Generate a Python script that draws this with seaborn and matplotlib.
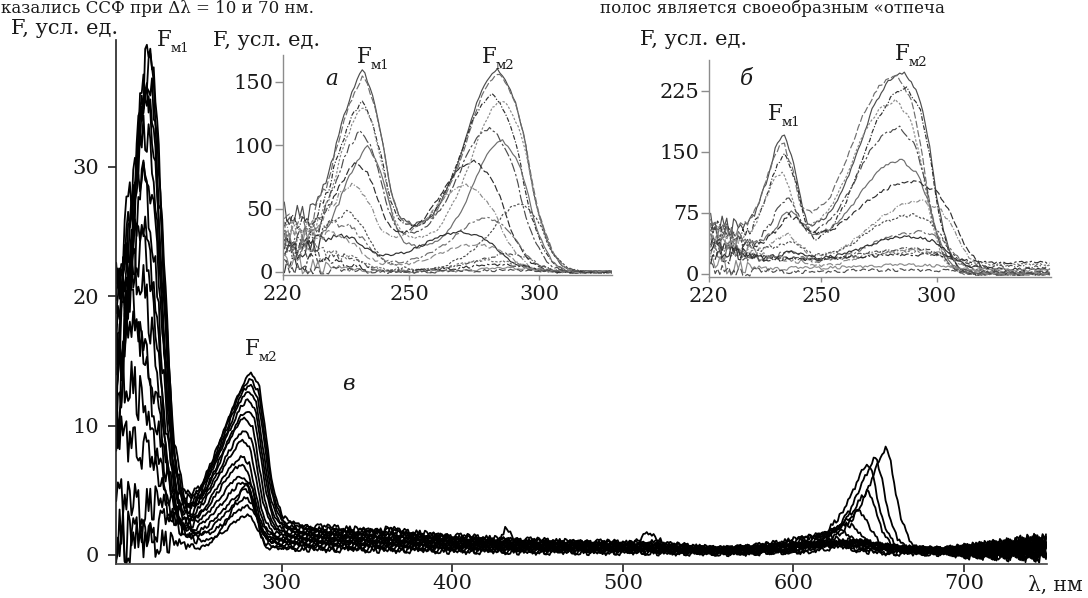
import numpy as np
import pandas as pd
import matplotlib
matplotlib.use("Agg")
import matplotlib.pyplot as plt
import seaborn as sns

# ---------------- DATA ----------------
# shared hand-typed jitter pattern (scan noise), values in [-1, 1]
noise_pattern = [0.0, 0.8, -0.5, 1.0, -0.9, 0.3, 0.7, -1.0, 0.4, -0.2, 0.9, -0.7, 0.1,
                 0.6, -0.8, 1.0, -0.3, -0.6, 0.5, 0.2, -1.0, 0.8, -0.4, 0.3, -0.9, 0.6,
                 0.9, -0.5, -0.1, 0.7, -0.8, 0.2, 1.0, -0.6, 0.4, -0.2, 0.8, -1.0, 0.5,
                 -0.3, 0.1]

# ---- main panel (в): band shapes (offset from peak, nm / normalised height)
main_fm1_off = [-26, -20, -16, -12, -8, -5, -2, 0, 2, 5, 8, 11, 14, 17, 20, 24, 30]
main_fm1_val = [0.0, 0.08, 0.2, 0.42, 0.68, 0.86, 0.97, 1.0, 0.96, 0.82, 0.6, 0.38, 0.2,
                0.1, 0.045, 0.015, 0.0]
main_fm2_off = [-46, -38, -30, -24, -18, -11, -4, 0, 4.6, 8.6, 11.6, 14.6, 18.4, 22.6, 30]
main_fm2_val = [0.0, 0.1, 0.25, 0.4, 0.57, 0.78, 0.96, 1.0, 0.91, 0.57, 0.31, 0.155, 0.05,
                0.02, 0.0]
main_fm3_off = [-45, -35, -25, -15, -8, -3, 0, 3, 6, 9, 13, 18, 24]
main_fm3_val = [0.0, 0.08, 0.2, 0.42, 0.7, 0.92, 1.0, 0.85, 0.55, 0.32, 0.15, 0.05, 0.0]
main_base_wl = [203, 260, 300, 320, 340, 360, 380, 400, 430, 460, 500, 530, 555, 580, 600,
                640, 680, 700, 720, 748]
main_base_val = [1.0, 1.0, 1.0, 0.92, 0.85, 0.8, 0.72, 0.62, 0.52, 0.45, 0.4, 0.33, 0.22,
                 0.26, 0.32, 0.3, 0.22, 0.2, 0.28, 0.4]
main_ped_wl = [203, 207, 211, 216, 222]
main_ped_val = [1.0, 0.85, 0.55, 0.2, 0.0]
main_noise_wl = [203, 214, 228, 242, 255, 300, 330, 690, 705, 748]
main_noise_amp = [2.5, 2.0, 1.2, 0.4, 0.15, 0.15, 0.22, 0.2, 0.5, 0.8]
main_bump_off = [-12, -6, -3, 0, 3, 6, 12]
main_bump_val = [0.0, 0.35, 0.8, 1.0, 0.8, 0.35, 0.0]

# ---- main panel: one entry per spectrum
main_fm1_amp = [36.8, 35.8, 35.0, 34.0, 32.5, 30.8, 28.5, 26.0, 23.5, 21.3, 18.8, 15.0,
                13.0, 10.2, 7.3, 3.4, 2.0, 0.6]
main_fm1_pos = [222.5, 222.2, 222.0, 221.6, 221.2, 220.8, 220.5, 220.0, 219.6, 219.0,
                218.5, 218.0, 217.5, 217.0, 216.0, 228.0, 233.5, 230.0]
main_fm1_wid = [1.0, 1.0, 1.0, 1.02, 1.04, 1.06, 1.08, 1.1, 1.12, 1.15, 1.2, 1.3, 1.4,
                1.5, 1.6, 1.5, 1.2, 1.8]
main_fm2_amp = [11.6, 11.4, 11.1, 10.6, 10.1, 9.4, 8.9, 8.0, 7.3, 6.2, 5.7, 4.8, 4.5, 4.0,
                3.5, 3.0, 2.4, 5.15]
main_fm2_pos = [282.4, 282.0, 281.6, 281.0, 280.5, 280.0, 279.0, 278.5, 277.5, 277.0,
                276.5, 276.0, 277.5, 278.5, 279.0, 280.0, 280.0, 280.5]
main_fm2_wid = [1.0, 1.0, 0.98, 0.97, 0.96, 0.95, 0.93, 0.92, 0.9, 0.88, 0.86, 0.84, 0.8,
                0.78, 0.76, 0.74, 0.7, 0.55]
main_fm3_amp = [0.3, 0.4, 0.3, 0.5, 0.3, 0.6, 0.5, 0.9, 1.1, 1.5, 2.0, 3.0, 4.6, 6.9, 7.3,
                8.1, 0.7, 0.5]
main_fm3_pos = [640, 642, 645, 638, 640, 635, 628, 612, 618, 625, 632, 638, 643.5, 643.5,
                648, 654, 622, 630]
main_fm3_wid = [1.2, 1.2, 1.2, 1.2, 1.2, 1.4, 1.5, 1.8, 1.7, 1.5, 1.3, 1.15, 1.0, 1.0, 1.0,
                1.0, 1.6, 1.4]
main_base = [2.4, 2.2, 2.1, 2.0, 1.9, 1.8, 1.7, 1.6, 1.5, 1.4, 1.3, 1.2, 1.1, 1.0, 0.9,
             0.8, 0.6, 0.45]
main_ped = [3.0, 6.0, 10.0, 4.0, 12.0, 8.0, 2.0, 14.0, 5.0, 9.0, 11.0, 7.0, 13.0, 6.0,
            3.0, 2.0, 1.0, 0.5]
main_bump_curve = [2, 4, 6, 9, 12]
main_bump_pos = [432, 365, 515, 520, 508]
main_bump_amp = [1.1, 0.6, 1.0, 0.8, 0.6]
main_bump_wid = [0.4, 1.6, 1.0, 0.7, 1.2]

# ---- insets: shared left "pedestal" shape
inset_ped_wl = [202, 208, 214, 220, 226, 232, 238, 246]
inset_ped_val = [1.0, 0.95, 0.8, 0.6, 0.4, 0.22, 0.08, 0.0]

# ---- inset а
ins_a_fm1_off = [-24, -20, -14, -9, -4, 0, 3.7, 7.3, 10.4, 14.2, 19.3, 26.7, 35]
ins_a_fm1_val = [0.02, 0.06, 0.28, 0.6, 0.87, 1.0, 0.89, 0.66, 0.38, 0.2, 0.1, 0.03, 0.0]
ins_a_fm2_off = [-48, -41, -36, -31, -26, -22, -17, -12, -8, -4, 0, 3, 7.2, 10.4, 12.3,
                 14.9, 18.1, 21.2, 24.5, 30]
ins_a_fm2_val = [0.0, 0.05, 0.1, 0.16, 0.23, 0.33, 0.48, 0.67, 0.84, 0.95, 1.0, 0.95, 0.82,
                 0.65, 0.49, 0.32, 0.19, 0.09, 0.035, 0.0]
ins_a_noise_wl = [202, 212, 220, 236, 330]
ins_a_noise_amp = [9, 7, 3, 1.2, 0.8]
ins_a_fm1_amp = [150, 147, 128, 125, 106, 95, 78, 56, 40, 28, 20, 13, 8, 5, 3, 1, 0]
ins_a_fm1_pos = [232.3, 232.5, 232.0, 232.5, 231.5, 234.0, 230.0, 228.5, 226.5, 226.0,
                 225.0, 224.0, 224.0, 224.0, 224.0, 224.0, 224.0]
ins_a_fm2_amp = [160, 157, 140, 136, 114, 104, 88, 69, 54, 43, 32, 22, 14, 9, 6, 3, 1.5]
ins_a_fm2_pos = [284.2, 284.5, 282.0, 285.8, 281.0, 285.8, 274.6, 272.0, 292.7, 280.0,
                 270.0, 276.0, 288.0, 282.0, 285.0, 290.0, 290.0]
ins_a_fm2_wid = [1.0, 1.0, 1.0, 0.95, 1.0, 0.9, 1.05, 1.1, 0.8, 1.0, 1.2, 1.1, 0.9, 1.0,
                 1.0, 1.0, 1.0]
ins_a_ped = [45, 40, 35, 30, 25, 22, 20, 28, 18, 25, 15, 30, 10, 20, 8, 5, 2]

# ---- inset б
ins_b_fm1_off = [-24, -17, -12.3, -8, -4, 0, 4.4, 7.9, 12, 16, 20, 26, 32]
ins_b_fm1_val = [0.0, 0.08, 0.27, 0.54, 0.85, 1.0, 0.79, 0.48, 0.3, 0.18, 0.08, 0.02, 0.0]
ins_b_fm2_off = [-42, -34, -28, -21, -14, -7, 0, 6.6, 11, 14, 17, 20, 24, 30]
ins_b_fm2_val = [0.0, 0.2, 0.36, 0.58, 0.81, 0.95, 1.0, 0.875, 0.63, 0.38, 0.22, 0.1,
                 0.03, 0.0]
ins_b_noise_wl = [202, 212, 222, 240, 352]
ins_b_noise_amp = [12, 10, 4, 2, 1.5]
ins_b_fm1_amp = [160, 152, 140, 115, 88, 72, 60, 45, 32, 25, 18, 12, 8, 5, 3, 1, 0]
ins_b_fm1_pos = [234.0, 233.5, 234.5, 233.0, 236.0, 237.5, 236.0, 236.0, 239.0, 238.0,
                 238.0, 238.0, 238.0, 238.0, 238.0, 238.0, 238.0]
ins_b_fm2_amp = [249, 245, 229, 214, 181, 140, 115, 90, 70, 52, 40, 30, 22, 15, 10, 6, 3]
ins_b_fm2_pos = [286.0, 282.5, 286.8, 282.5, 284.0, 285.0, 291.0, 294.0, 290.0, 292.6,
                 290.0, 292.0, 290.0, 290.0, 290.0, 290.0, 290.0]
ins_b_fm2_wid = [1.0, 1.0, 0.95, 1.0, 1.0, 1.05, 1.4, 1.2, 1.1, 1.2, 1.2, 1.3, 1.3, 1.3,
                 1.4, 1.4, 1.4]
ins_b_ped = [65, 60, 55, 50, 45, 55, 40, 35, 50, 30, 25, 45, 20, 15, 10, 5, 2]
ins_b_base = [0, 0, 0, 0, 0, 0, 0, 0, 3, 0, 6, 0, 9, 12, 14, 5, 2]

# ---- tick labels / text
main_xticks = [300, 400, 500, 600, 700]
main_yticks = [0, 10, 20, 30]
inset_xticklabels = ["220", "250", "300"]
ins_a_yticks = [0, 50, 100, 150]
ins_b_yticks = [0, 75, 150, 225]
ylabel_text = "F, усл. ед."
xlabel_text = "λ, нм"
top_line_1 = "казались ССФ при Δλ = 10 и 70 нм."
top_line_2 = "полос является своеобразным «отпеча"

# ---------------- helpers ----------------
def band(x, center, amp, offs, vals, width=1.0):
    return amp * np.interp(x, center + np.asarray(offs, float) * width, vals,
                           left=vals[0], right=vals[-1])


def jitter(n, i, env):
    pat = np.asarray(noise_pattern)
    idx = (np.arange(n) * 3 + i * 7) % len(pat)
    return pat[idx] * env


# ---------------- build long tables ----------------
wl_main = np.arange(203.0, 748.5, 1.0)
env_main = np.interp(wl_main, main_noise_wl, main_noise_amp)
frames = []
for i in range(len(main_fm1_amp)):
    y = (band(wl_main, main_fm1_pos[i], main_fm1_amp[i], main_fm1_off, main_fm1_val, main_fm1_wid[i])
         + band(wl_main, main_fm2_pos[i], main_fm2_amp[i], main_fm2_off, main_fm2_val, main_fm2_wid[i])
         + band(wl_main, main_fm3_pos[i], main_fm3_amp[i], main_fm3_off, main_fm3_val, main_fm3_wid[i])
         + main_base[i] * np.interp(wl_main, main_base_wl, main_base_val)
         + main_ped[i] * np.interp(wl_main, main_ped_wl, main_ped_val, right=0.0)
         + jitter(len(wl_main), i, env_main))
    for c, p, a, w in zip(main_bump_curve, main_bump_pos, main_bump_amp, main_bump_wid):
        if c == i:
            y = y + band(wl_main, p, a, main_bump_off, main_bump_val, w)
    y = np.clip(y, -0.6, None)
    frames.append(pd.DataFrame({"wl": wl_main, "F": y, "curve": f"m{i:02d}"}))
df_main = pd.concat(frames, ignore_index=True)


def build_inset(wl, fm1_amp, fm1_pos, fm1_off, fm1_val, fm2_amp, fm2_pos, fm2_wid,
                fm2_off, fm2_val, ped, noise_wl, noise_amp, base=None, tag="a", lo=-2.0):
    env = np.interp(wl, noise_wl, noise_amp)
    out = []
    for i in range(len(fm1_amp)):
        y = (band(wl, fm1_pos[i], fm1_amp[i], fm1_off, fm1_val)
             + band(wl, fm2_pos[i], fm2_amp[i], fm2_off, fm2_val, fm2_wid[i])
             + ped[i] * np.interp(wl, inset_ped_wl, inset_ped_val, right=0.0)
             + jitter(len(wl), i + 3, env))
        if base is not None:
            y = y + base[i]
        y = np.clip(y, lo, None)
        out.append(pd.DataFrame({"wl": wl, "F": y, "curve": f"{tag}{i:02d}"}))
    return pd.concat(out, ignore_index=True)


wl_a = np.arange(202.0, 328.5, 1.0)
df_a = build_inset(wl_a, ins_a_fm1_amp, ins_a_fm1_pos, ins_a_fm1_off, ins_a_fm1_val,
                   ins_a_fm2_amp, ins_a_fm2_pos, ins_a_fm2_wid, ins_a_fm2_off,
                   ins_a_fm2_val, ins_a_ped, ins_a_noise_wl, ins_a_noise_amp, tag="a",
                   lo=-1.5)
wl_b = np.arange(202.0, 350.0, 1.0)
df_b = build_inset(wl_b, ins_b_fm1_amp, ins_b_fm1_pos, ins_b_fm1_off, ins_b_fm1_val,
                   ins_b_fm2_amp, ins_b_fm2_pos, ins_b_fm2_wid, ins_b_fm2_off,
                   ins_b_fm2_val, ins_b_ped, ins_b_noise_wl, ins_b_noise_amp,
                   base=ins_b_base, tag="b", lo=-2.5)

# ---------------- figure ----------------
sns.set_theme(style="white")
plt.rcParams["font.family"] = ["DejaVu Serif", "DejaVu Sans"]

W, H = 1088, 598
fig = plt.figure(figsize=(W / 100, H / 100), dpi=100, facecolor="white")


def fx(x):
    return x / W


def fy(y):
    return 1 - y / H


FS = 15.0

# main axes
ax = fig.add_axes([fx(116), fy(564), fx(1047) - fx(116), fy(40) - fy(564)])
ax.set_facecolor("none")
sns.lineplot(data=df_main, x="wl", y="F", units="curve", estimator=None, color="black",
             lw=1.3, ax=ax, legend=False)
ax.set_xlim(202.9, 748.6)
ax.set_ylim(-0.7, 39.8)
ax.set_xticks(main_xticks)
ax.set_yticks(main_yticks)
ax.set_xlabel("")
ax.set_ylabel("")
for s in ["top", "right"]:
    ax.spines[s].set_visible(False)
ax.spines["left"].set_color("#222222")
ax.spines["bottom"].set_color("#444444")
ax.spines["left"].set_linewidth(1.2)
ax.spines["bottom"].set_linewidth(1.2)
ax.tick_params(axis="both", direction="out", length=6.0, width=1.2, colors="#222222",
               labelsize=FS, labelcolor="#1a1a1a", left=True, bottom=True)
ax.tick_params(axis="y", pad=6)
ax.tick_params(axis="x", pad=1.5)

inset_colors = ["#4d4d4d", "#6e6e6e", "#2f2f2f", "#8a8a8a"]
inset_dash_cycle = ["", (6, 2), (4, 1.5, 1, 1.5), (2, 1.5), (8, 2, 2, 2)]


def draw_inset(rect, df, xlim, ylim, yticks):
    ia = fig.add_axes(rect)
    ia.set_facecolor("none")
    levels = list(dict.fromkeys(df["curve"]))
    pal = [inset_colors[k % len(inset_colors)] for k in range(len(levels))]
    dsh = [inset_dash_cycle[k % len(inset_dash_cycle)] for k in range(len(levels))]
    sns.lineplot(data=df, x="wl", y="F", hue="curve", style="curve", hue_order=levels,
                 style_order=levels, palette=pal, dashes=dsh, lw=0.85, estimator=None,
                 legend=False, ax=ia)
    ia.set_xlim(*xlim)
    ia.set_ylim(*ylim)
    ia.set_xticks([xlim[0], 250, 300])
    ia.set_xticklabels(inset_xticklabels)
    ia.set_yticks(yticks)
    ia.set_xlabel("")
    ia.set_ylabel("")
    for s in ["top", "right"]:
        ia.spines[s].set_visible(False)
    for s in ["left", "bottom"]:
        ia.spines[s].set_color("#8c8c8c")
        ia.spines[s].set_linewidth(1.0)
    ia.tick_params(axis="y", direction="out", length=5.5, width=1.0, colors="#8c8c8c",
                   labelsize=FS, labelcolor="#1a1a1a", pad=1.5, left=True)
    ia.tick_params(axis="x", direction="out", length=3.5, width=1.0, colors="#8c8c8c",
                   labelsize=FS, labelcolor="#1a1a1a", pad=4.0, bottom=True)
    return ia


draw_inset([fx(283), fy(275), fx(612) - fx(283), fy(55) - fy(275)], df_a,
           (201.5, 328.1), (-2.4, 171.3), ins_a_yticks)
draw_inset([fx(709), fy(277), fx(1051) - fx(709), fy(60) - fy(277)], df_b,
           (201.3, 349.6), (-3.7, 263.0), ins_b_yticks)

# ---------------- texts ----------------
def ftext(x, y, s, size=FS, style="normal", color="#1a1a1a"):
    fig.text(fx(x), fy(y), s, fontsize=size, fontstyle=style, color=color,
             ha="left", va="baseline")


def fm_label(x, y, sub):
    ftext(x, y, "F", size=15.5)
    ftext(x + 14, y + 6, sub, size=9.5)


ftext(1, 13, top_line_1, size=12)
ftext(600, 13, top_line_2, size=12)
ftext(11, 34, ylabel_text)
ftext(213, 46, ylabel_text)
ftext(640, 45, ylabel_text)
ftext(1028, 591, xlabel_text, size=14.5)

ftext(342, 390, "в", style="italic", size=15.5)
ftext(325, 85, "а", style="italic", size=15.5)
ftext(740, 85, "б", style="italic", size=15.5)

fm_label(157, 46, "м1")
fm_label(245, 355, "м2")
fm_label(357, 63, "м1")
fm_label(482, 63, "м2")
fm_label(768, 120, "м1")
fm_label(895, 60, "м2")

fig.savefig("out.png", dpi=100, facecolor="white")
